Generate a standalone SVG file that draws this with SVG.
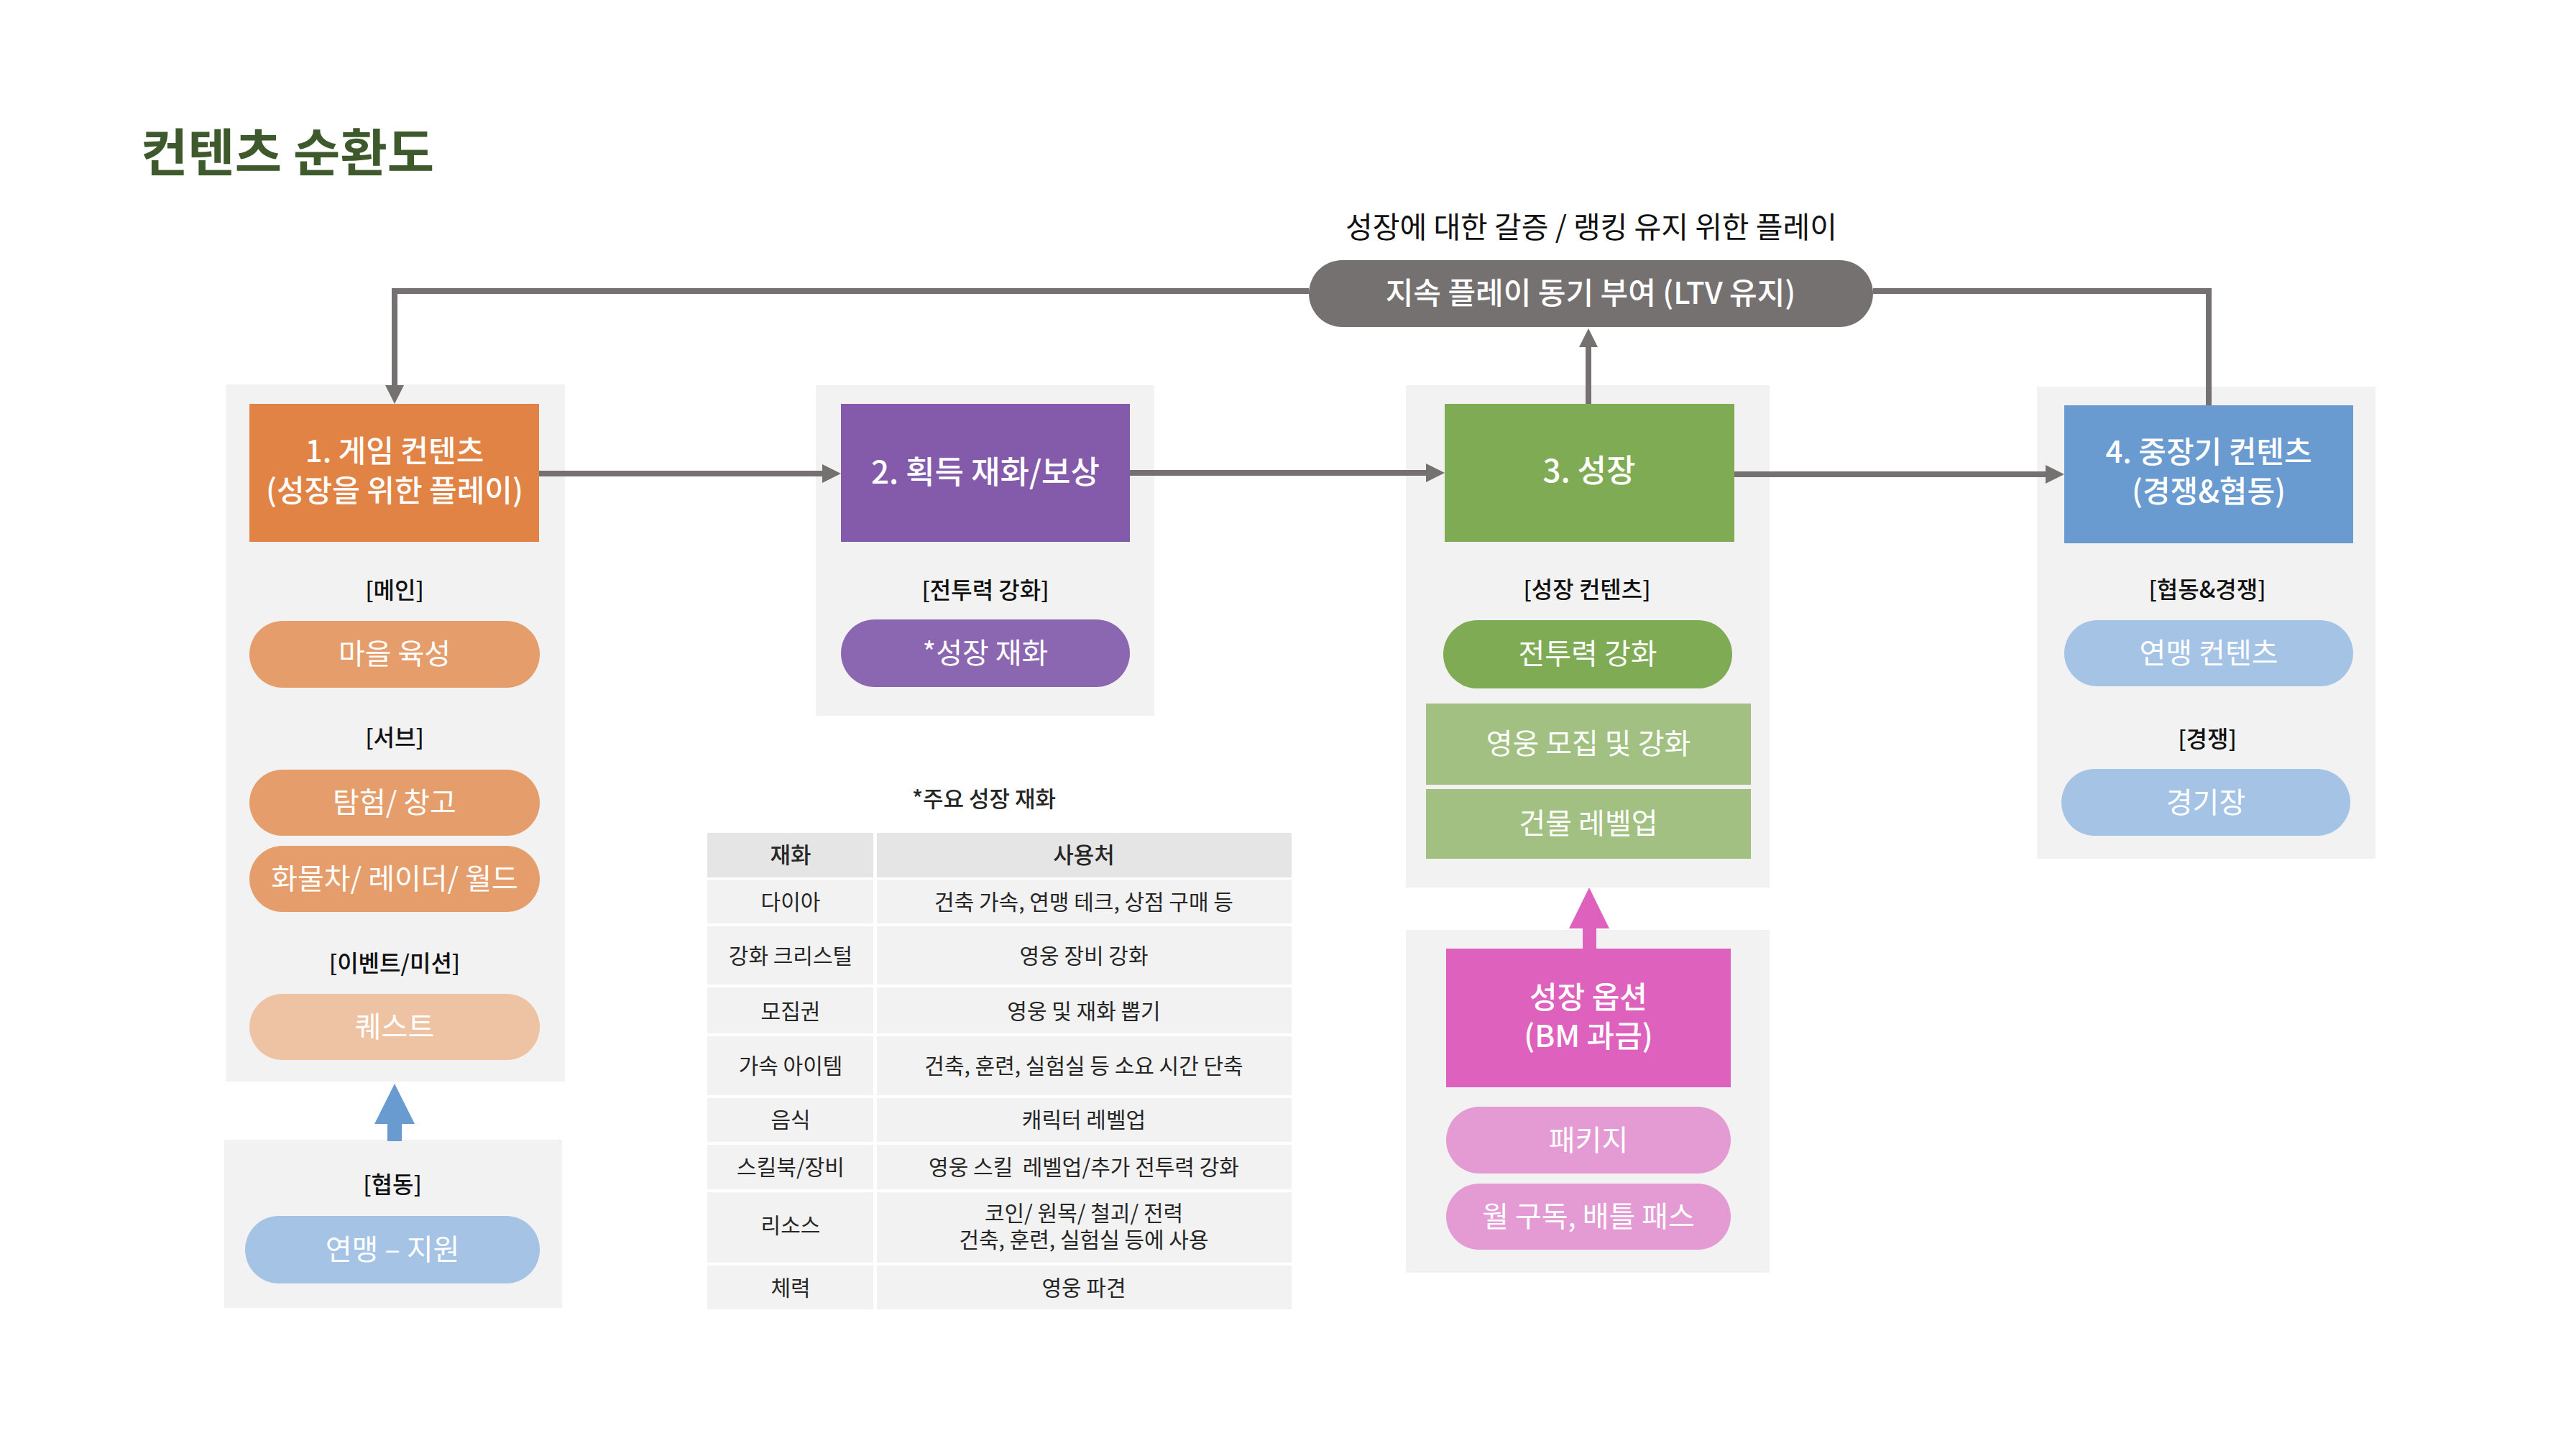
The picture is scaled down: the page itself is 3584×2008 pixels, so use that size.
<svg xmlns="http://www.w3.org/2000/svg" width="3584" height="2008" viewBox="0 0 3584 2008">
<style>
text{font-family:"Noto Sans CJK KR","Noto Sans",sans-serif;text-anchor:middle}
.panel{fill:#f2f2f2}
.title{font-size:71px;font-weight:700;fill:#3e5a2c;text-anchor:start}
.box{font-size:42px;font-weight:500;fill:#ffffff}
.lbl{font-size:32px;font-weight:500;fill:#111111}
.pt{font-size:40px;font-weight:400;fill:#ffffff}
.tt{font-size:30px;font-weight:400;fill:#262626}
.th{font-size:31px;font-weight:500;fill:#262626}
.cell{fill:#f2f2f2}
.hcell{fill:#e5e5e5}
.conn{fill:none;stroke:#767171;stroke-width:8}
</style>
<defs>
<marker id="ah" viewBox="0 0 26 26" markerWidth="26" markerHeight="26" refX="0" refY="13" orient="auto" markerUnits="userSpaceOnUse">
<path d="M0,0 L26,13 L0,26 z" fill="#767171"/>
</marker>
</defs>
<rect width="3584" height="2008" fill="#ffffff"/>
<text class="title" x="196" y="238">컨텐츠 순환도</text>

<g id="panels">
<rect class="panel" x="314" y="535" width="472" height="970"/>
<rect class="panel" x="312" y="1586" width="470" height="234"/>
<rect class="panel" x="1135" y="536" width="471" height="460"/>
<rect class="panel" x="1956" y="536" width="506" height="699"/>
<rect class="panel" x="1956" y="1294" width="506" height="477"/>
<rect class="panel" x="2834" y="538" width="471" height="657"/>
</g>

<g id="connectors">
<path class="conn" d="M1821,405 H549 V536" marker-end="url(#ah)"/>
<path class="conn" d="M2606,405 H3073 V564"/>
<path class="conn" d="M2210,562 V483" stroke-width="6" marker-end="url(#ah)"/>
<path class="conn" d="M750,659 H1144" marker-end="url(#ah)"/>
<path class="conn" d="M1572,658 H1984" marker-end="url(#ah)"/>
<path class="conn" d="M2413,660 H2846" marker-end="url(#ah)"/>
<polygon points="549,1508 577,1564 559,1564 559,1588 539,1588 539,1564 521,1564" fill="#6a9bd0"/>
<polygon points="2211,1235 2239,1292 2221,1292 2221,1320 2202,1320 2202,1292 2183,1292" fill="#de62bd"/>
</g>

<g id="ltv">
<text class="lbl" x="2214" y="331" style="font-size:41px;font-weight:400">성장에 대한 갈증 / 랭킹 유지 위한 플레이</text>
<rect x="1821" y="362" width="785" height="93" rx="46.5" fill="#767171"/>
<text class="box" x="2213" y="423">지속 플레이 동기 부여 (LTV 유지)</text>
</g>

<g id="node1">
<rect x="347" y="562" width="403" height="192" fill="#e08344"/>
<text class="box" x="549" y="643">1. 게임 컨텐츠</text>
<text class="box" x="549" y="698">(성장을 위한 플레이)</text>
<text class="lbl" x="549" y="833">[메인]</text>
<rect x="347" y="864" width="404" height="93" rx="46.5" fill="#e59e6b"/>
<text class="pt" x="549" y="924">마을 육성</text>
<text class="lbl" x="549" y="1038">[서브]</text>
<rect x="347" y="1071" width="404" height="92" rx="46" fill="#e59e6b"/>
<text class="pt" x="549" y="1131">탐험/ 창고</text>
<rect x="347" y="1177" width="404" height="92" rx="46" fill="#e59e6b"/>
<text class="pt" x="549" y="1237">화물차/ 레이더/ 월드</text>
<text class="lbl" x="549" y="1352">[이벤트/미션]</text>
<rect x="347" y="1383" width="404" height="92" rx="46" fill="#eec3a3"/>
<text class="pt" x="549" y="1443">퀘스트</text>
</g>

<g id="coop">
<text class="lbl" x="546" y="1660">[협동]</text>
<rect x="341" y="1692" width="410" height="94" rx="47" fill="#a5c3e5"/>
<text class="pt" x="546" y="1753">연맹 – 지원</text>
</g>

<g id="node2">
<rect x="1170" y="562" width="402" height="192" fill="#845aab"/>
<text class="box" x="1371" y="673" style="font-size:44px">2. 획득 재화/보상</text>
<text class="lbl" x="1371" y="833">[전투력 강화]</text>
<rect x="1170" y="862" width="402" height="94" rx="47" fill="#8c67b1"/>
<text class="pt" x="1371" y="923">*성장 재화</text>
</g>

<g id="node3">
<rect x="2010" y="562" width="403" height="192" fill="#7fab55"/>
<text class="box" x="2211" y="671" style="font-size:44px">3. 성장</text>
<text class="lbl" x="2208" y="832">[성장 컨텐츠]</text>
<rect x="2008" y="863" width="402" height="95" rx="47.5" fill="#7fab55"/>
<text class="pt" x="2209" y="924">전투력 강화</text>
<rect x="1984" y="979" width="452" height="113" fill="#a2c081"/>
<text class="pt" x="2210" y="1049">영웅 모집 및 강화</text>
<rect x="1984" y="1098" width="452" height="97" fill="#a2c081"/>
<text class="pt" x="2210" y="1160">건물 레벨업</text>
</g>

<g id="bm">
<rect x="2012" y="1320" width="396" height="193" fill="#de62bd"/>
<text class="box" x="2210" y="1403">성장 옵션</text>
<text class="box" x="2210" y="1457">(BM 과금)</text>
<rect x="2012" y="1540" width="396" height="93" rx="46.5" fill="#e49bd3"/>
<text class="pt" x="2210" y="1601">패키지</text>
<rect x="2012" y="1647" width="396" height="92" rx="46" fill="#e49bd3"/>
<text class="pt" x="2210" y="1707">월 구독, 배틀 패스</text>
</g>

<g id="node4">
<rect x="2872" y="564" width="402" height="192" fill="#6a9bd0"/>
<text class="box" x="3073" y="644">4. 중장기 컨텐츠</text>
<text class="box" x="3073" y="699">(경쟁&amp;협동)</text>
<text class="lbl" x="3071" y="832">[협동&amp;경쟁]</text>
<rect x="2872" y="863" width="402" height="92" rx="46" fill="#a5c3e5"/>
<text class="pt" x="3073" y="923">연맹 컨텐츠</text>
<text class="lbl" x="3071" y="1040">[경쟁]</text>
<rect x="2868" y="1070" width="402" height="93" rx="46.5" fill="#a5c3e5"/>
<text class="pt" x="3069" y="1131">경기장</text>
</g>

<g id="table">
<text class="th" x="1369" y="1123">*주요 성장 재화</text>
<rect class="hcell" x="984" y="1159" width="231" height="62"/>
<rect class="hcell" x="1220" y="1159" width="577" height="62"/>
<text class="th" x="1100" y="1201">재화</text>
<text class="th" x="1508" y="1201">사용처</text>

<rect class="cell" x="984" y="1224" width="231" height="61"/>
<rect class="cell" x="1220" y="1224" width="577" height="61"/>
<text class="tt" x="1100" y="1266">다이아</text>
<text class="tt" x="1508" y="1266">건축 가속, 연맹 테크, 상점 구매 등</text>

<rect class="cell" x="984" y="1289" width="231" height="81"/>
<rect class="cell" x="1220" y="1289" width="577" height="81"/>
<text class="tt" x="1100" y="1341">강화 크리스털</text>
<text class="tt" x="1508" y="1341">영웅 장비 강화</text>

<rect class="cell" x="984" y="1374" width="231" height="64"/>
<rect class="cell" x="1220" y="1374" width="577" height="64"/>
<text class="tt" x="1100" y="1418">모집권</text>
<text class="tt" x="1508" y="1418">영웅 및 재화 뽑기</text>

<rect class="cell" x="984" y="1442" width="231" height="82"/>
<rect class="cell" x="1220" y="1442" width="577" height="82"/>
<text class="tt" x="1100" y="1494">가속 아이템</text>
<text class="tt" x="1508" y="1494">건축, 훈련, 실험실 등 소요 시간 단축</text>

<rect class="cell" x="984" y="1528" width="231" height="61"/>
<rect class="cell" x="1220" y="1528" width="577" height="61"/>
<text class="tt" x="1100" y="1569">음식</text>
<text class="tt" x="1508" y="1569">캐릭터 레벨업</text>

<rect class="cell" x="984" y="1593" width="231" height="62"/>
<rect class="cell" x="1220" y="1593" width="577" height="62"/>
<text class="tt" x="1100" y="1635">스킬북/장비</text>
<text class="tt" x="1508" y="1635" xml:space="preserve">영웅 스킬  레벨업/추가 전투력 강화</text>

<rect class="cell" x="984" y="1659" width="231" height="98"/>
<rect class="cell" x="1220" y="1659" width="577" height="98"/>
<text class="tt" x="1100" y="1716">리소스</text>
<text class="tt" x="1508" y="1699">코인/ 원목/ 철괴/ 전력</text>
<text class="tt" x="1508" y="1736">건축, 훈련, 실험실 등에 사용</text>

<rect class="cell" x="984" y="1761" width="231" height="61"/>
<rect class="cell" x="1220" y="1761" width="577" height="61"/>
<text class="tt" x="1100" y="1803">체력</text>
<text class="tt" x="1508" y="1803">영웅 파견</text>
</g>
</svg>
